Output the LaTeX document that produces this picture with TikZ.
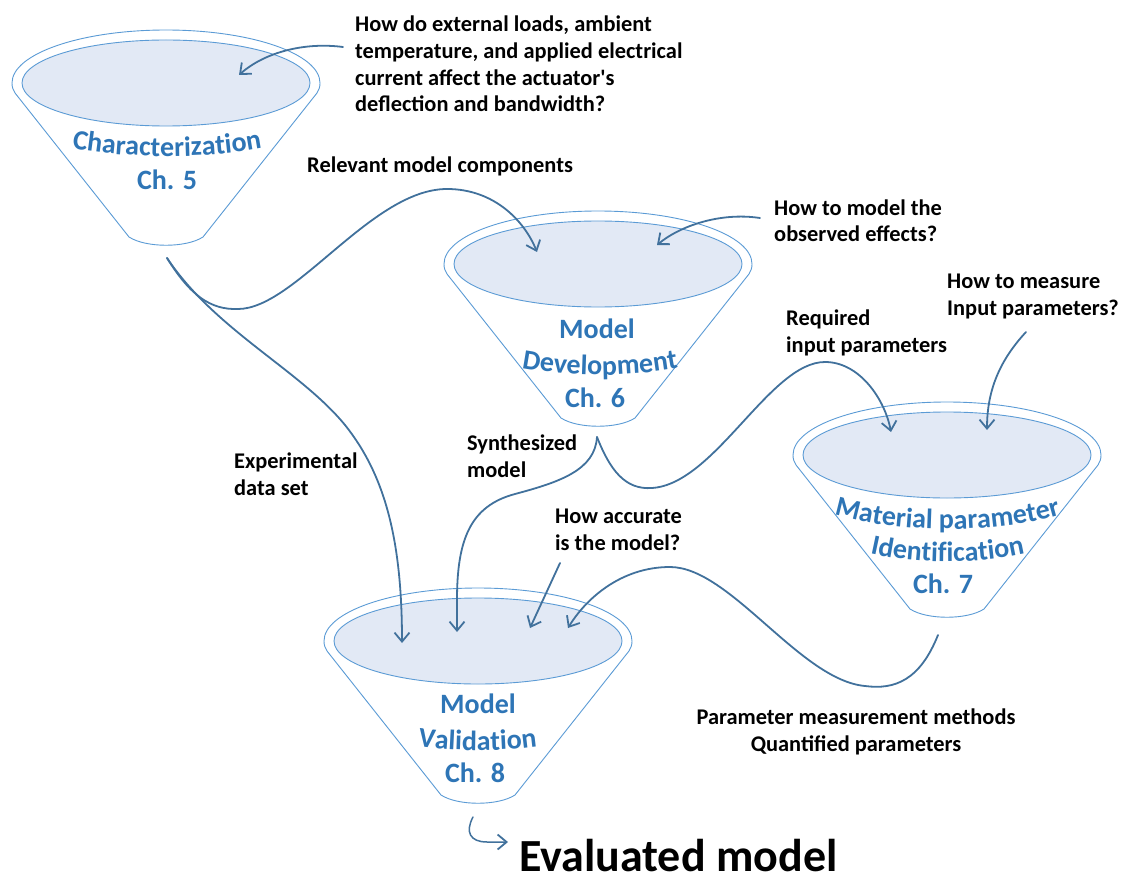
\documentclass[tikz,border=0pt]{standalone}
\usepackage{fontspec}
\setmainfont{Carlito}
\usetikzlibrary{arrows.meta,decorations.text}
\definecolor{fline}{HTML}{5B9BD5}
\definecolor{ffill}{HTML}{E2E9F5}
\definecolor{ftext}{HTML}{2E75B6}
\definecolor{arr}{HTML}{41719C}
\tikzset{
  funnelline/.style={draw=fline, line width=0.9pt},
  conn/.style={draw=arr, line width=1.8pt, line cap=round,
    -{Straight Barb[length=9pt,width=15pt,line width=1.8pt]}},
  lbl/.style={font=\fontsize{22.4}{26.8}\selectfont\bfseries, align=left, inner sep=0pt},
  lblc/.style={font=\fontsize{22.4}{27}\selectfont\bfseries, align=center, inner sep=0pt},
  ftxt/.style={font=\fontsize{28}{28}\selectfont\bfseries, text=ftext, inner sep=0pt},
  funnel/.pic={
    \path[funnelline, fill=white] (-154,0)
      arc[start angle=180,end angle=0,x radius=154pt,y radius=53pt]
      .. controls (154,4) and (153,7) .. (151,10) -- (37,154)
      .. controls (20,165) and (-20,165) .. (-37,154) -- (-151,10)
      .. controls (-153,7) and (-154,4) .. (-154,0) -- cycle;
    \path[funnelline, fill=ffill] (0,0) ellipse[x radius=144pt, y radius=43pt];
  }
}
\newcommand{\ftfmt}{|\fontsize{28}{28}\selectfont\bfseries\color{ftext}|}
\begin{document}
\begin{tikzpicture}[x=1pt,y=-1pt]
\useasboundingbox (0,0) rectangle (1121,877);
% funnels
\pic at (166,83) {funnel};
\pic at (598,264) {funnel};
\pic at (947,455) {funnel};
\pic at (478,641) {funnel};

% funnel labels
\path[decorate, decoration={text along path, text align=center,
  text={\ftfmt Characterization}}] (45,142) .. controls (110,161) and (224,161) .. (289,142);
\node[ftxt, anchor=base] (ch5) at (167,190) {Ch. 5};

\node[ftxt, anchor=base] (md1) at (597,338) {Model};
\path[decorate, decoration={text along path, text align=center,
  text={\ftfmt Development}}] (490,360) .. controls (552,380) and (648,380) .. (710,360);
\node[ftxt, anchor=base] (ch6) at (595,407) {Ch. 6};

\path[decorate, decoration={text along path, text align=center,
  text={\ftfmt Material parameter}}] (815,508) .. controls (884,536) and (1011,536) .. (1080,508);
\path[decorate, decoration={text along path, text align=center,
  text={\ftfmt Identification}}] (850,548) .. controls (905,566) and (990,566) .. (1045,548);
\node[ftxt, anchor=base] (ch7) at (943,593) {Ch. 7};

\node[ftxt, anchor=base] (mv1) at (478,713) {Model};
\path[decorate, decoration={text along path, text align=center,
  text={\ftfmt Validation}}] (395,742) .. controls (434,753) and (521,753) .. (560,742);
\node[ftxt, anchor=base] (ch8) at (475,782) {Ch. 8};

% black labels (anchor = baseline of last line)
\node[lbl, anchor=base west] (q1) at (355,112) {How do external loads, ambient\\temperature, and applied electrical\\current affect the actuator\textquotesingle s\\deflection and bandwidth?};
\node[lbl, anchor=base west] (rel) at (307,173) {Relevant model components};
\node[lbl, anchor=base west] (qmod) at (774,242) {How to model the\\observed effects?};
\node[lbl, anchor=base west] (qmeas) at (947,315) {How to measure\\Input parameters?};
\node[lbl, anchor=base west] (req) at (786,352) {Required\\input parameters};
\node[lbl, anchor=base west] (syn) at (467,477) {Synthesized\\model};
\node[lbl, anchor=base west] (exp) at (234,495) {Experimental\\data set};
\node[lbl, anchor=base west] (acc) at (555,550) {How accurate\\is the model?};
\node[lblc, anchor=base] (pm) at (856,751) {Parameter measurement methods\\Quantified parameters};
\node[font=\fontsize{46}{46}\selectfont\bfseries, inner sep=0pt, anchor=base west] (eval) at (519,871) {Evaluated model};

% connector end points
\coordinate (a1) at (343,47);   \coordinate (a1e) at (239,75);
\coordinate (f1out) at (167,258);
\coordinate (b1e) at (537,252);
\coordinate (c1e) at (402,643);
\coordinate (f2out) at (597,437);
\coordinate (d1e) at (457,632);
\coordinate (d2e) at (891,432);
\coordinate (e1) at (560,563);  \coordinate (e1e) at (530,628);
\coordinate (f3out) at (938,635);
\coordinate (g1e) at (568,628);
\coordinate (h1) at (760,218);  \coordinate (h1e) at (657,245);
\coordinate (i1) at (1026,332); \coordinate (i1e) at (987,430);
\coordinate (f4out) at (473,817); \coordinate (j1e) at (508,842);

% connectors
\draw[conn] (a1) .. controls (305,42) and (265,52) .. (a1e);
\draw[conn] (f1out) .. controls (190,295) and (210,310) .. (238,309)
  .. controls (295,309) and (372,189) .. (447,189)
  .. controls (495,189) and (525,222) .. (b1e);
\draw[conn] (f1out) .. controls (215,330) and (300,370) .. (345,425)
  .. controls (385,475) and (402,540) .. (c1e);
\draw[conn] (f2out) .. controls (595,470) and (560,482) .. (515,494)
  .. controls (470,506) and (457,540) .. (457,600) -- (d1e);
\draw[conn] (f2out) .. controls (610,470) and (625,490) .. (652,488)
  .. controls (715,484) and (770,362) .. (825,362)
  .. controls (860,362) and (885,400) .. (d2e);
\draw[conn] (e1) -- (e1e);
\draw[conn] (f3out) .. controls (920,680) and (895,690) .. (865,686)
  .. controls (800,680) and (730,567) .. (670,567)
  .. controls (620,567) and (585,600) .. (g1e);
\draw[conn] (h1) .. controls (720,212) and (680,226) .. (h1e);
\draw[conn] (i1) .. controls (1000,360) and (987,390) .. (i1e);
\draw[conn, line width=1.5pt] (f4out) .. controls (465,832) and (470,842) .. (487,842) -- (j1e);
\end{tikzpicture}
\end{document}
